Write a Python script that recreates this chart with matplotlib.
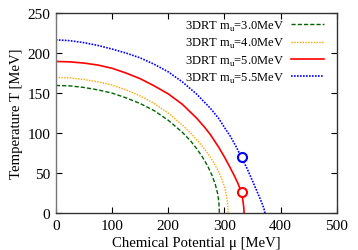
import matplotlib
matplotlib.use("Agg")
import matplotlib.pyplot as plt

plt.rcParams['font.family'] = ['Liberation Serif', 'DejaVu Serif']
plt.rcParams['mathtext.fontset'] = 'custom'
plt.rcParams['mathtext.rm'] = 'Liberation Serif'

# m_u = 3.0 MeV
mu_30 = [0, 25, 50, 75, 100, 125, 150, 175, 200, 225, 240, 250, 260, 270, 278, 284, 288, 290, 291]
T_30 = [159.5, 159, 157, 154, 150, 144, 137, 128, 116, 101, 90, 81, 71, 59, 47, 35, 24, 14, 0]

# m_u = 4.0 MeV
mu_40 = [0, 25, 50, 75, 100, 125, 150, 175, 200, 225, 240, 250, 260, 270, 280, 288, 295, 300,
         303, 305, 306, 306.5]
T_40 = [169.5, 169, 167, 164, 160, 154, 146.5, 137, 125, 110, 100, 92, 84, 75, 64, 54, 43, 33,
        24, 15, 8, 0]

# m_u = 5.0 MeV
mu_50 = [0, 25, 50, 75, 100, 125, 150, 175, 200, 225, 250, 265, 275, 290, 300, 310, 318, 324,
         328, 331, 333, 334.3, 335]
T_50 = [189.5, 189, 187.5, 185, 181, 175, 168, 159, 149, 136, 119, 107, 98, 82, 70, 57, 46, 37,
        30, 23, 15, 7, 0]

# m_u = 5.5 MeV
mu_55 = [0, 25, 50, 75, 100, 125, 150, 175, 200, 225, 250, 275, 290, 300, 310, 320, 330, 340,
         350, 358, 364, 368, 370.5, 372]
T_55 = [216.5, 215.5, 213, 209.5, 205, 200, 194, 186, 176.5, 164, 149, 131, 118, 107, 96.5, 84,
        70, 56, 40, 27, 17, 10, 5, 0]

# critical end points
cep_mu = [330.4, 330.4]
cep_T = [25.8, 69.5]
cep_col = ['red', 'blue']

labels = ['3DRT m$_\\mathrm{u}$=3.0MeV', '3DRT m$_\\mathrm{u}$=4.0MeV',
          '3DRT m$_\\mathrm{u}$=5.0MeV', '3DRT m$_\\mathrm{u}$=5.5MeV']

fig = plt.figure(figsize=(3.58, 2.51), dpi=100)
ax = fig.add_axes([0.156, 0.147, 0.785, 0.797])

ax.plot(mu_30, T_30, color='#006400', lw=1.0, ls=(0, (3, 1.5)), label=labels[0])
ax.plot(mu_40, T_40, color='orange', lw=1.0, ls=(0, (1, 1)), label=labels[1])
ax.plot(mu_50, T_50, color='red', lw=1.2, ls='-', label=labels[2])
ax.plot(mu_55, T_55, color='blue', lw=1.2, ls=(0, (1, 0.8)), label=labels[3])

for i in range(len(cep_mu)):
    ax.plot(cep_mu[i], cep_T[i], 'o', ms=6.5, mfc='white', mec=cep_col[i], mew=1.5)

ax.set_xlim(0, 500)
ax.set_ylim(0, 250)
ax.set_xticks([0, 100, 200, 300, 400, 500])
ax.set_yticks([0, 50, 100, 150, 200, 250])
ax.tick_params(direction='in', top=True, right=True, length=4, labelsize=11, pad=4)
for s in ax.spines.values():
    s.set_color('#333333')
    s.set_linewidth(1.0)
ax.spines['left'].set_color('#777777')

ax.set_xlabel('Chemical Potential μ [MeV]', fontsize=10.6, labelpad=3)
ax.set_ylabel('Temperature T [MeV]', fontsize=10.6, labelpad=3)

ax.legend(loc='upper right', bbox_to_anchor=(0.967, 0.99), frameon=False, markerfirst=False,
          fontsize=9, handlelength=2.6, handletextpad=0.6, labelspacing=0.26,
          borderaxespad=0, borderpad=0.3)

fig.savefig('out.png', dpi=100)
